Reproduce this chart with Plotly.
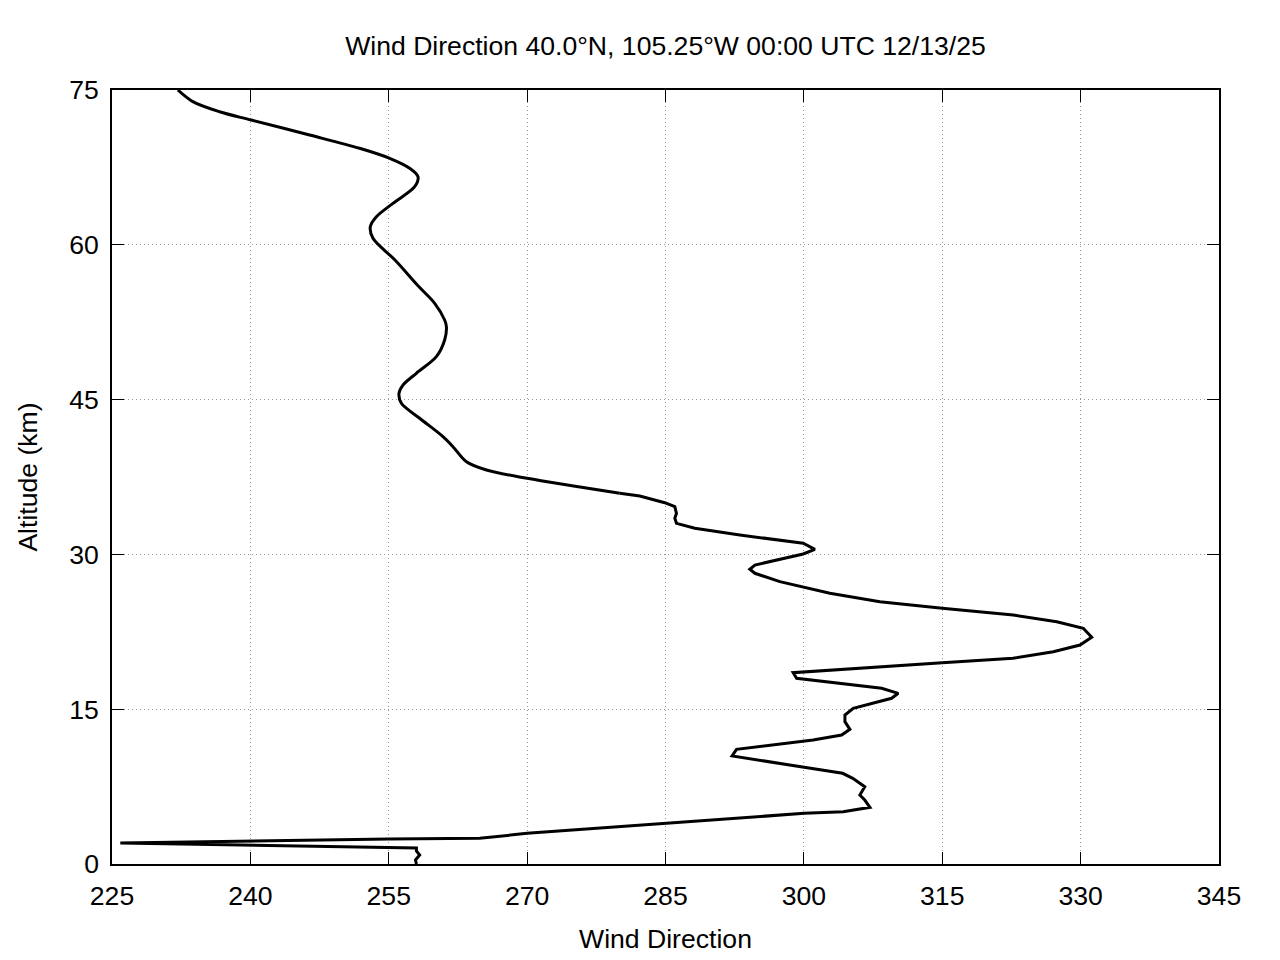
import plotly.graph_objects as go

# Wind direction (degrees) vs altitude (km)
direction = [
    258.0, 257.9, 258.35, 258.0, 258.0, 225.9, 255.0, 264.86, 270.0, 285.06,
    300.03, 304.26, 307.16, 306.6, 306.07, 306.6, 305.3, 304.2, 299.56, 292.22,
    292.7, 301.0, 304.09, 304.99, 304.45, 304.45, 305.35, 309.51, 310.23, 308.43,
    299.21, 298.84, 315.0, 322.67, 327.04, 329.93, 331.2, 330.29, 327.41, 322.7,
    315.0, 308.24, 302.82, 300.03, 297.4, 294.69, 294.14, 294.69, 299.93, 301.19,
    299.93, 293.06, 288.18, 286.19, 286.01, 286.19, 286.01, 284.92, 282.21, 280.04,
    269.99, 265.59, 263.42, 261.96, 260.88, 258.35, 256.37, 256.11, 256.54, 257.99,
    260.16, 261.06, 261.25, 261.06, 259.98, 258.2, 255.7, 253.29, 253.0, 253.66,
    255.46, 257.81, 258.17, 257.27, 255.1, 251.84, 246.42, 240.1, 236.66, 233.76,
    232.14,
]
altitude = [
    0.0, 0.39, 0.87, 1.26, 1.55, 2.03, 2.42, 2.49, 2.97, 3.94,
    4.91, 5.07, 5.49, 6.2, 6.69, 7.49, 8.3, 8.79, 9.43, 10.47,
    11.11, 12.02, 12.5, 13.05, 13.79, 14.44, 15.09, 16.06, 16.54, 17.03,
    18.0, 18.54, 19.51, 19.93, 20.57, 21.22, 21.97, 22.84, 23.48, 24.13,
    24.78, 25.42, 26.23, 26.81, 27.36, 28.17, 28.56, 28.97, 30.04, 30.49,
    31.08, 31.88, 32.53, 33.01, 33.5, 33.98, 34.62, 35.01, 35.66, 35.92,
    37.37, 38.18, 38.98, 40.44, 41.41, 43.19, 44.64, 45.61, 46.41, 47.55,
    49.16, 50.78, 52.06, 52.71, 54.33, 56.0, 58.5, 60.63, 61.75, 62.72,
    64.02, 65.63, 66.6, 67.41, 68.38, 69.35, 70.64, 72.09, 72.89, 73.87,
    75.0,
]
# index where the profile becomes smooth (upper atmosphere)
smooth_start = 59

x_ticks = [225, 240, 255, 270, 285, 300, 315, 330, 345]
y_ticks = [0, 15, 30, 45, 60, 75]
title_text = "Wind Direction 40.0°N, 105.25°W 00:00 UTC 12/13/25"

FONT = "Liberation Sans, Arial, sans-serif"
FS = 26.6

fig = go.Figure()
fig.add_trace(go.Scatter(
    x=direction[:smooth_start + 1], y=altitude[:smooth_start + 1], mode="lines",
    line=dict(color="black", width=3),
    showlegend=False,
))
fig.add_trace(go.Scatter(
    x=direction[smooth_start:], y=altitude[smooth_start:], mode="lines",
    line=dict(color="black", width=3, shape="spline", smoothing=0.9),
    showlegend=False,
))

axis_common = dict(
    showline=True, linecolor="black", linewidth=1.5, mirror="ticks",
    ticks="inside", ticklen=12, tickwidth=1.2, tickcolor="black",
    showgrid=True, gridcolor="#9a9a9a", griddash="1px,3px", gridwidth=1,
    zeroline=False,
    tickfont=dict(family=FONT, size=FS, color="black"),
)

fig.update_layout(
    width=1280, height=960,
    margin=dict(l=112, r=61, t=90, b=96),
    paper_bgcolor="white", plot_bgcolor="white",
    font=dict(family=FONT, color="black"),
    title=dict(text=title_text, xref="paper", x=0.5, xanchor="center",
               yref="container", y=0.952, yanchor="middle",
               font=dict(family=FONT, size=FS, color="black")),
    xaxis=dict(range=[225, 345], tickvals=x_ticks, ticktext=[str(v) for v in x_ticks],
               ticklabelstandoff=7,
               title=dict(text="Wind Direction", font=dict(family=FONT, size=FS), standoff=20),
               **axis_common),
    yaxis=dict(range=[0, 75], tickvals=y_ticks, ticktext=[str(v) for v in y_ticks],
               ticklabelstandoff=6,
               title=dict(text="Altitude (km)", font=dict(family=FONT, size=FS), standoff=24),
               **axis_common),
)

fig.write_html("out.html")
